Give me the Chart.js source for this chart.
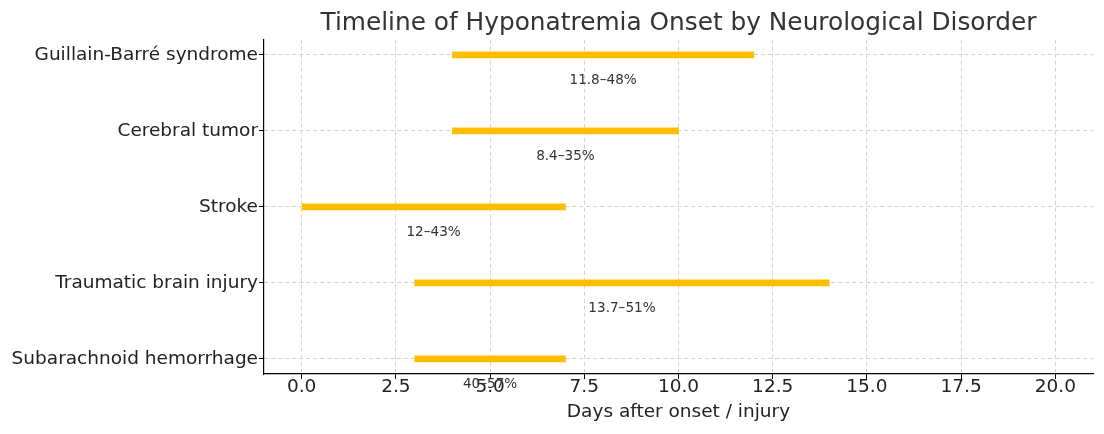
<!DOCTYPE html>
<html>
<head>
<meta charset="utf-8">
<script src="https://cdn.jsdelivr.net/npm/chart.js@4"></script>
<style>
  html, body { margin: 0; padding: 0; background: #fff; }
  #wrap { width: 1104px; height: 434px; position: relative; }
</style>
</head>
<body>
<div id="wrap"><canvas id="chart"></canvas></div>
<script>
// Onset window (days) per disorder, top to bottom
const disorders = ['Guillain-Barré syndrome', 'Cerebral tumor', 'Stroke', 'Traumatic brain injury', 'Subarachnoid hemorrhage'];
const onsetStart = [4, 4, 0, 3, 3];
const onsetEnd = [12, 10, 7, 14, 7];
const incidence = ['11.8–48%', '8.4–35%', '12–43%', '13.7–51%', '40–57%'];
const dayTicks = [0, 2.5, 5, 7.5, 10, 12.5, 15, 17.5, 20];

const FONT = "'DejaVu Sans', sans-serif";

// draws the incidence text under each bar
const incidenceLabels = {
  id: 'incidenceLabels',
  afterDraw(chart) {
    const ctx = chart.ctx;
    const xs = chart.scales.x, ys = chart.scales.y;
    ctx.save();
    ctx.font = '13.6px ' + FONT;
    ctx.fillStyle = '#333';
    ctx.textAlign = 'center';
    ctx.textBaseline = 'middle';
    incidence.forEach((txt, i) => {
      const mid = (onsetStart[i] + onsetEnd[i]) / 2;
      ctx.fillText(txt, xs.getPixelForValue(mid), ys.getPixelForValue(i) + 26);
    });
    ctx.restore();
  }
};

new Chart(document.getElementById('chart'), {
  type: 'bar',
  data: {
    datasets: [{
      data: disorders.map((d, i) => ({ x: [onsetStart[i], onsetEnd[i]], y: i })),
      backgroundColor: '#ffbf00',
      borderWidth: 0,
      barThickness: 6,
      borderSkipped: false
    }]
  },
  options: {
    indexAxis: 'y',
    responsive: true,
    maintainAspectRatio: false,
    animation: false,
    layout: { padding: { left: 0, right: 11, top: 0, bottom: 0 } },
    plugins: {
      legend: { display: false },
      tooltip: { enabled: false },
      title: {
        display: true,
        text: 'Timeline of Hyponatremia Onset by Neurological Disorder',
        fullSize: false,
        color: '#333',
        font: { family: FONT, size: 24.8, weight: 'normal' },
        padding: { top: 9, bottom: 1 }
      }
    },
    scales: {
      x: {
        type: 'linear',
        min: -1,
        max: 21,
        afterBuildTicks: s => { s.ticks = dayTicks.map(v => ({ value: v })); },
        afterFit: s => { s.height = 60; },
        ticks: {
          color: '#222',
          font: { family: FONT, size: 18.5 },
          padding: -3,
          callback: v => v.toFixed(1)
        },
        grid: {
          color: '#d3d3d3',
          tickColor: '#000',
          tickLength: 5,
          tickBorderDash: []
        },
        border: { display: true, color: '#000', width: 1.2, dash: [4, 3] },
        title: {
          display: true,
          text: 'Days after onset / injury',
          color: '#222',
          font: { family: FONT, size: 18.5 },
          padding: { top: 0, bottom: 11 }
        }
      },
      y: {
        type: 'linear',
        reverse: true,
        offset: false,
        min: -0.2,
        max: 4.2,
        afterBuildTicks: s => { s.ticks = disorders.map((d, i) => ({ value: i })); },
        afterFit: s => { s.width = 264; },
        ticks: {
          color: '#222',
          font: { family: FONT, size: 18.5 },
          padding: 1,
          callback: v => disorders[v]
        },
        grid: {
          offset: false,
          color: '#d3d3d3',
          tickColor: '#000',
          tickLength: 5,
          tickBorderDash: []
        },
        border: { display: true, color: '#000', width: 1.2, dash: [4, 3] }
      }
    }
  },
  plugins: [incidenceLabels]
});
</script>
</body>
</html>
